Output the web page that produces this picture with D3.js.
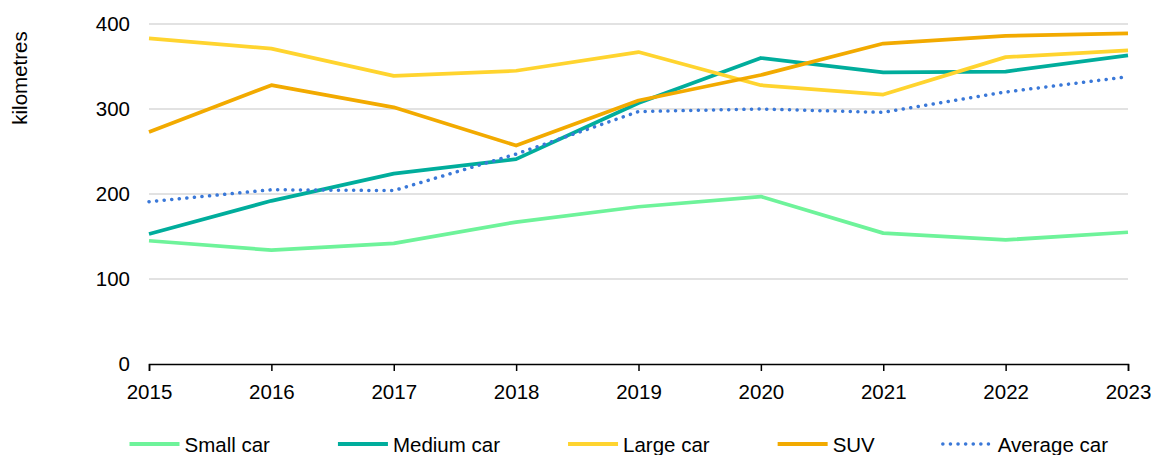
<!DOCTYPE html>
<html>
<head>
<meta charset="utf-8">
<script src="https://cdn.jsdelivr.net/npm/d3@7"></script>
<style>
  body { margin: 0; background: #fff; }
  svg { display: block; font-family: "Liberation Sans", Arial, sans-serif; }
</style>
</head>
<body>
<div id="chart"></div>
<script>
// data
const years = [2015, 2016, 2017, 2018, 2019, 2020, 2021, 2022, 2023];
const smallCar = [145, 134, 142, 167, 185, 197, 154, 146, 155];
const mediumCar = [153, 192, 224, 241, 307, 360, 343, 344, 363];
const largeCar = [383, 371, 339, 345, 367, 328, 317, 361, 369];
const suv = [273, 328, 302, 257, 310, 340, 377, 386, 389];
const averageCar = [191, 205, 204, 247, 297, 300, 296, 320, 338];
const yTicks = [0, 100, 200, 300, 400];
const seriesNames = ['Small car', 'Medium car', 'Large car', 'SUV', 'Average car'];
const seriesColors = ['#6ef39a', '#00ad9c', '#ffd42f', '#f2aa00', '#3a78d8'];

const series = [smallCar, mediumCar, largeCar, suv, averageCar].map((values, i) => ({
  name: seriesNames[i],
  color: seriesColors[i],
  dotted: seriesNames[i] === 'Average car',
  values: values.map((v, j) => ({ year: years[j], value: v }))
}));

const width = 1151;
const height = 455;
const plotLeft = 149, plotRight = 1128, plotTop = 24, plotBottom = 364;

const svg = d3.select('#chart')
  .append('svg')
  .attr('width', width)
  .attr('height', height);

const x = d3.scaleLinear()
  .domain([2015, 2023])
  .range([plotLeft, plotRight]);

const y = d3.scaleLinear()
  .domain([0, 400])
  .range([plotBottom, plotTop]);

// gridlines
svg.append('g')
  .selectAll('line')
  .data(yTicks.filter(d => d > 0))
  .enter()
  .append('line')
  .attr('x1', plotLeft)
  .attr('x2', plotRight)
  .attr('y1', d => y(d))
  .attr('y2', d => y(d))
  .attr('stroke', '#d9d9d9')
  .attr('stroke-width', 1.5);

// y tick labels
svg.append('g')
  .attr('transform', `translate(${plotLeft},0)`)
  .call(d3.axisLeft(y).tickValues(yTicks).tickSize(0).tickPadding(19))
  .call(g => g.select('.domain').remove())
  .call(g => g.selectAll('text')
    .attr('font-size', 20.5)
    .attr('font-family', '"Liberation Sans", Arial, sans-serif')
    .attr('fill', '#000'));

// x axis
svg.append('g')
  .attr('transform', `translate(0,${plotBottom})`)
  .call(d3.axisBottom(x).tickValues(years).tickFormat(d3.format('d')).tickSizeOuter(0).tickSize(7).tickPadding(13))
  .call(g => g.select('.domain').attr('stroke', '#000').attr('stroke-width', 1.5))
  .call(g => g.selectAll('.tick line').attr('stroke', '#000').attr('stroke-width', 1.5))
  .call(g => g.selectAll('text')
    .attr('font-size', 20.5)
    .attr('font-family', '"Liberation Sans", Arial, sans-serif')
    .attr('fill', '#000'));

// y axis title
svg.append('text')
  .attr('transform', 'translate(19.5,78) rotate(-90)')
  .attr('text-anchor', 'middle')
  .attr('dominant-baseline', 'central')
  .attr('font-size', 20.5)
  .text('kilometres');

// lines
const line = d3.line()
  .x(d => x(d.year))
  .y(d => y(d.value));

svg.append('g')
  .selectAll('path')
  .data(series)
  .enter()
  .append('path')
  .attr('d', d => line(d.values))
  .attr('fill', 'none')
  .attr('stroke', d => d.color)
  .attr('stroke-width', d => d.dotted ? 3.5 : 3.75)
  .attr('stroke-linecap', d => d.dotted ? 'round' : 'butt')
  .attr('stroke-linejoin', 'round')
  .attr('stroke-dasharray', d => d.dotted ? '0.1 7.5' : null);

// legend
const legend = svg.append('g');
let lx = 129.5;
const ly = 444;
series.forEach(s => {
  const item = legend.append('g').attr('transform', `translate(${lx},${ly})`);
  item.append('line')
    .attr('x1', 0)
    .attr('x2', 50)
    .attr('stroke', s.color)
    .attr('stroke-width', s.dotted ? 3.5 : 4)
    .attr('stroke-linecap', s.dotted ? 'round' : 'butt')
    .attr('stroke-dasharray', s.dotted ? '0.1 7.5' : null);
  const t = item.append('text')
    .attr('x', 55)
    .attr('dominant-baseline', 'central')
    .attr('font-size', 20.5)
    .text(s.name);
  lx += 55 + t.node().getComputedTextLength() + 68;
});
</script>
</body>
</html>
